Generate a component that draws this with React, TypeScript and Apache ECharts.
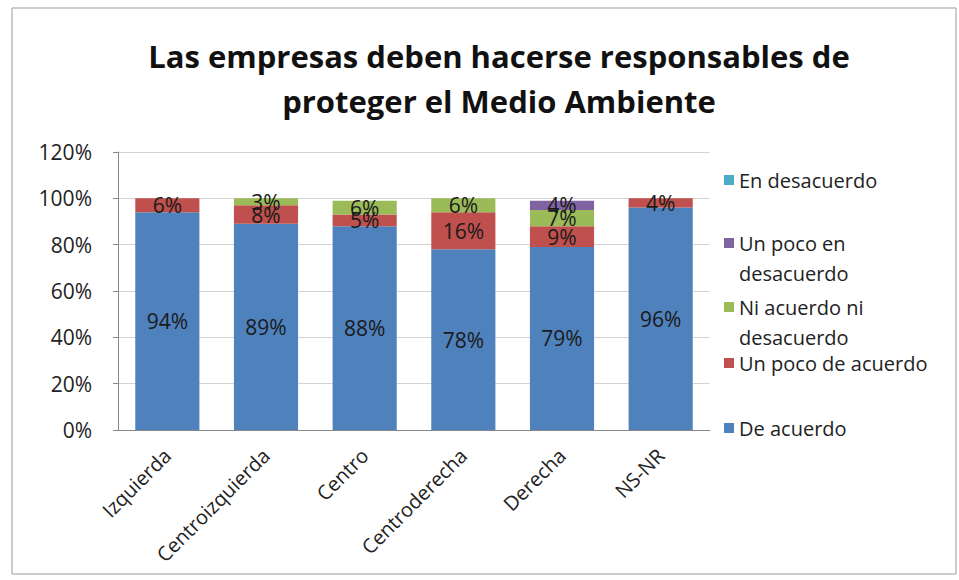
import React, { useEffect, useRef } from "react";
import * as echarts from "echarts";

const categories = ["Izquierda", "Centroizquierda", "Centro", "Centroderecha", "Derecha", "NS-NR"];
const deAcuerdo = [94, 89, 88, 78, 79, 96];
const unPocoDeAcuerdo = [6, 8, 5, 16, 9, 4];
const niAcuerdoNiDesacuerdo = [0, 3, 6, 6, 7, 0];
const unPocoEnDesacuerdo = [0, 0, 0, 0, 4, 0];
const enDesacuerdo = [0, 0, 0, 0, 0, 0];
const yTicks = [0, 20, 40, 60, 80, 100, 120];

const seriesDefs = [
  { name: "De acuerdo", data: deAcuerdo, color: "#4F81BD", legendName: "De acuerdo", top: 408 },
  { name: "Un poco de acuerdo", data: unPocoDeAcuerdo, color: "#C0504D", legendName: "Un poco de acuerdo", top: 343 },
  { name: "Ni acuerdo ni desacuerdo", data: niAcuerdoNiDesacuerdo, color: "#9BBB59", legendName: "\nNi acuerdo ni\ndesacuerdo", top: 257 },
  { name: "Un poco en desacuerdo", data: unPocoEnDesacuerdo, color: "#8064A2", legendName: "\nUn poco en\ndesacuerdo", top: 193 },
  { name: "En desacuerdo", data: enDesacuerdo, color: "#4BACC6", legendName: "En desacuerdo", top: 160 },
];

const FONT = "'Open Sans', 'Noto Sans', sans-serif";

export default function App() {
  const ref = useRef<HTMLDivElement>(null);
  useEffect(() => {
    if (!ref.current) return;
    const chart = echarts.init(ref.current, null, { renderer: "svg" });
    chart.setOption({
      animation: false,
      backgroundColor: "#ffffff",
      textStyle: { fontFamily: FONT },
      title: {
        text: "Las empresas deben hacerse responsables de\nproteger el Medio Ambiente",
        left: 494,
        textAlign: "center",
        top: 28,
        textStyle: { fontFamily: FONT, fontSize: 31, fontWeight: "bold", color: "#111", lineHeight: 45 },
      },
      graphic: [
        {
          type: "rect",
          shape: { x: 12, y: 8, width: 944, height: 566 },
          style: { fill: "none", stroke: "#9a9a9a", lineWidth: 1 },
          silent: true,
        },
      ],
      legend: seriesDefs.map((s) => ({
        data: [s.name],
        left: 719,
        top: s.top,
        padding: 5,
        orient: "vertical",
        itemWidth: 10,
        itemHeight: 10,
        itemGap: 0,
        icon: "rect",
        formatter: () => s.legendName,
        textStyle: { fontFamily: FONT, fontSize: 20, color: "#222", lineHeight: 30 },
        selectedMode: false,
      })),
      grid: { left: 118, right: 249, top: 152, bottom: 150 },
      xAxis: {
        type: "category",
        data: categories,
        axisLine: { lineStyle: { color: "#888" } },
        axisTick: { show: false },
        axisLabel: { rotate: 45, fontFamily: FONT, fontSize: 20, color: "#222", margin: 22, interval: 0 },
      },
      yAxis: {
        type: "value",
        min: yTicks[0],
        max: yTicks[yTicks.length - 1],
        interval: 20,
        axisLine: { show: true, lineStyle: { color: "#888" } },
        axisTick: { show: true, length: 5, lineStyle: { color: "#888" } },
        axisLabel: { formatter: "{value}%", fontFamily: FONT, fontSize: 21, color: "#222", margin: 26 },
        splitLine: { show: true, lineStyle: { color: "#d4d4d4" } },
      },
      series: seriesDefs.map((s) => ({
        name: s.name,
        type: "bar",
        stack: "total",
        barWidth: "65%",
        data: s.data,
        itemStyle: { color: s.color },
        label: {
          show: true,
          position: "inside",
          fontFamily: FONT,
          fontSize: 21,
          color: "#1a1a1a",
          formatter: (p: any) => (p.value > 0 ? p.value + "%" : ""),
        },
      })),
    });
    return () => chart.dispose();
  }, []);
  return <div ref={ref} style={{ width: 959, height: 580, position: "absolute", left: 0, top: 0 }} />;
}
